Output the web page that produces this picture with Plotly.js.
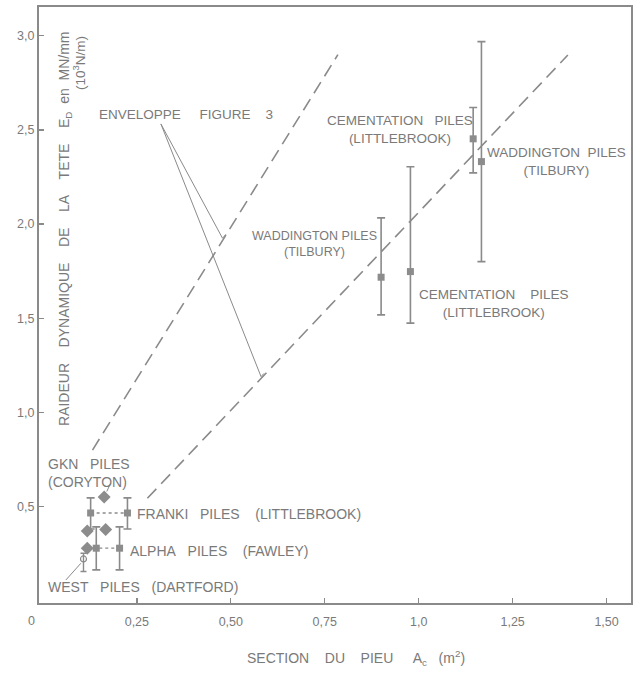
<!DOCTYPE html>
<html><head><meta charset="utf-8">
<script src="https://cdn.plot.ly/plotly-3.0.1.min.js"></script>
<style>html,body{margin:0;padding:0;background:#fff}</style>
</head><body>
<div id="chart" style="width:639px;height:677px"></div>
<script>
// square markers with error bars (Franki x2, Alpha x2, Waddington L, Cementation L, Cementation U, Waddington R)
const sqX  = [0.127, 0.225, 0.142, 0.204, 0.900, 0.978, 1.145, 1.167];
const sqY  = [0.466, 0.466, 0.279, 0.279, 1.718, 1.748, 2.453, 2.332];
const sqHi = [0.546, 0.546, 0.392, 0.392, 2.033, 2.305, 2.619, 2.969];
const sqLo = [0.381, 0.381, 0.164, 0.164, 1.518, 1.474, 2.272, 1.801];
// diamonds (GKN and others)
const dmX = [0.163, 0.118, 0.167, 0.118];
const dmY = [0.551, 0.371, 0.378, 0.279];
// West piles (open circle)
const westX = [0.108], westY = [0.222], westHi = [0.252], westLo = [0.155];
// dotted connectors
const frankiRowX = [0.127, 0.225], frankiRowY = [0.466, 0.466];
const alphaRowX = [0.118, 0.204], alphaRowY = [0.279, 0.279];
// envelopes
const envUpperX = [0.132, 0.785], envUpperY = [0.80, 2.90];
const envLowerX = [0.278, 1.397], envLowerY = [0.544, 2.898];
// leader lines
const leadEnvX = [0.487, 0.478, 0.314, 0.5805, 0.588];
const leadEnvY = [1.946, 1.925, 2.532, 1.190, 1.207];
const leadGknX = [0.180, 0.170], leadGknY = [0.624, 0.580];
const leadWestX = [0.061, 0.101], leadWestY = [0.110, 0.199];
// ticks
const xTickVals = [0.25, 0.5, 0.75, 1.0, 1.25, 1.5];
const xTickText = ["0,25", "0,50", "0,75", "1,0", "1,25", "1,50"];
const yTickVals = [0.5, 1.0, 1.5, 2.0, 2.5, 3.0];
const yTickText = ["0,5", "1,0", "1,5", "2,0", "2,5", "3,0"];

const G = '#8a8a8a', T = '#7a7a7a';
const F = 'Liberation Sans, Arial, sans-serif';
const sp = n => '\u00a0'.repeat(n);

const traces = [
  {x: envUpperX, y: envUpperY, mode: 'lines', line: {color: G, width: 1.6, dash: '13px,7px'}},
  {x: envLowerX, y: envLowerY, mode: 'lines', line: {color: G, width: 1.6, dash: '13px,7px'}},
  {x: leadEnvX, y: leadEnvY, mode: 'lines', line: {color: G, width: 1}},
  {x: leadGknX, y: leadGknY, mode: 'lines', line: {color: G, width: 1}},
  {x: leadWestX, y: leadWestY, mode: 'lines', line: {color: G, width: 1}},
  {x: frankiRowX, y: frankiRowY, mode: 'lines', line: {color: G, width: 1.3, dash: 'dot'}},
  {x: alphaRowX, y: alphaRowY, mode: 'lines', line: {color: G, width: 1.3, dash: 'dot'}},
  {x: sqX, y: sqY, mode: 'markers', marker: {symbol: 'square', size: 7, color: '#8c8c8c'},
   error_y: {type: 'data', symmetric: false,
     array: sqHi.map((h, i) => h - sqY[i]), arrayminus: sqLo.map((l, i) => sqY[i] - l),
     color: G, thickness: 1.6, width: 4}},
  {x: dmX, y: dmY, mode: 'markers', marker: {symbol: 'diamond', size: 10, color: '#8c8c8c'}},
  {x: westX, y: westY, mode: 'markers', marker: {symbol: 'circle-open', size: 6, color: G, line: {width: 1.2}},
   error_y: {type: 'data', symmetric: false,
     array: westHi.map((h, i) => h - westY[i]), arrayminus: westLo.map((l, i) => westY[i] - l),
     color: G, thickness: 1.4, width: 3}}
];

function ann(text, x, y, xanchor, size) {
  return {text: text, x: x, y: y, xref: 'x', yref: 'y', xanchor: xanchor || 'center', yanchor: 'middle',
          showarrow: false, align: xanchor === 'left' ? 'left' : 'center', font: {family: F, size: size || 13.5, color: T}};
}

const layout = {
  width: 639, height: 677,
  margin: {l: 39, r: 8, t: 7, b: 74},
  paper_bgcolor: '#fff', plot_bgcolor: '#fff',
  showlegend: false,
  font: {family: F, color: T},
  xaxis: {range: [-0.0104, 1.565], showgrid: false, zeroline: false, showline: true, mirror: true,
          linecolor: G, linewidth: 2, ticks: 'inside', ticklen: 5, tickcolor: G, tickwidth: 1.3,
          ticklabelstandoff: 6,
          tickvals: xTickVals, ticktext: xTickText, tickfont: {family: F, size: 12.5, color: T}},
  yaxis: {range: [-0.012, 3.153], showgrid: false, zeroline: false, showline: true, mirror: true,
          linecolor: G, linewidth: 2, ticks: 'inside', ticklen: 5, tickcolor: G, tickwidth: 1.3,
          tickvals: yTickVals, ticktext: yTickText, tickfont: {family: F, size: 12.5, color: T}},
  annotations: [
    ann('ENVELOPPE' + sp(5) + 'FIGURE' + sp(4) + '3', 0.145, 2.58, 'left', 13.5),
    ann('CEMENTATION' + sp(3) + 'PILES<br>(LITTLEBROOK)', 0.949, 2.50, 'center', 13.5),
    ann('WADDINGTON' + sp(2) + 'PILES<br>(TILBURY)', 1.366, 2.33, 'center', 13.5),
    ann('WADDINGTON PILES<br>(TILBURY)', 0.722, 1.893, 'center', 12.5),
    ann('CEMENTATION' + sp(4) + 'PILES<br>(LITTLEBROOK)', 1.20, 1.581, 'center', 13.5),
    ann('GKN' + sp(3) + 'PILES<br>(CORYTON)', 0.008, 0.679, 'left', 14),
    ann('FRANKI' + sp(3) + 'PILES' + sp(4) + '(LITTLEBROOK)', 0.2455, 0.461, 'left', 14),
    ann('ALPHA' + sp(3) + 'PILES' + sp(4) + '(FAWLEY)', 0.227, 0.265, 'left', 14),
    ann('WEST' + sp(3) + 'PILES' + sp(3) + '(DARTFORD)', 0.008, 0.073, 'left', 14),
    {text: '0', x: -0.0123, y: -0.030, xref: 'paper', yref: 'paper', showarrow: false,
     xanchor: 'center', yanchor: 'middle', font: {family: F, size: 12.5, color: T}},
    {text: 'RAIDEUR' + sp(4) + 'DYNAMIQUE' + sp(4) + 'DE' + sp(4) + 'LA' + sp(4) + 'TETE' + sp(4) + 'E<sub>D</sub>' + sp(2) + 'en' + sp(2) + 'MN/mm',
     x: 0.0439, y: 0.6275, xref: 'paper', yref: 'paper', showarrow: false, textangle: -90,
     xanchor: 'center', yanchor: 'middle', font: {family: F, size: 14, color: T}},
    {text: '(10<sup>3</sup>N/m)', x: 0.0676, y: 0.906, xref: 'paper', yref: 'paper', showarrow: false, textangle: -90,
     xanchor: 'center', yanchor: 'middle', font: {family: F, size: 13.5, color: T}},
    {text: 'SECTION' + sp(4) + 'DU' + sp(4) + 'PIEU' + sp(5) + 'A<sub>c</sub>' + sp(3) + '(m<sup>2</sup>)',
     x: 0.5355, y: -0.0923, xref: 'paper', yref: 'paper', showarrow: false,
     xanchor: 'center', yanchor: 'middle', font: {family: F, size: 14, color: T}}
  ]
};

Plotly.newPlot('chart', traces, layout, {staticPlot: true, displayModeBar: false});
</script>
</body></html>
